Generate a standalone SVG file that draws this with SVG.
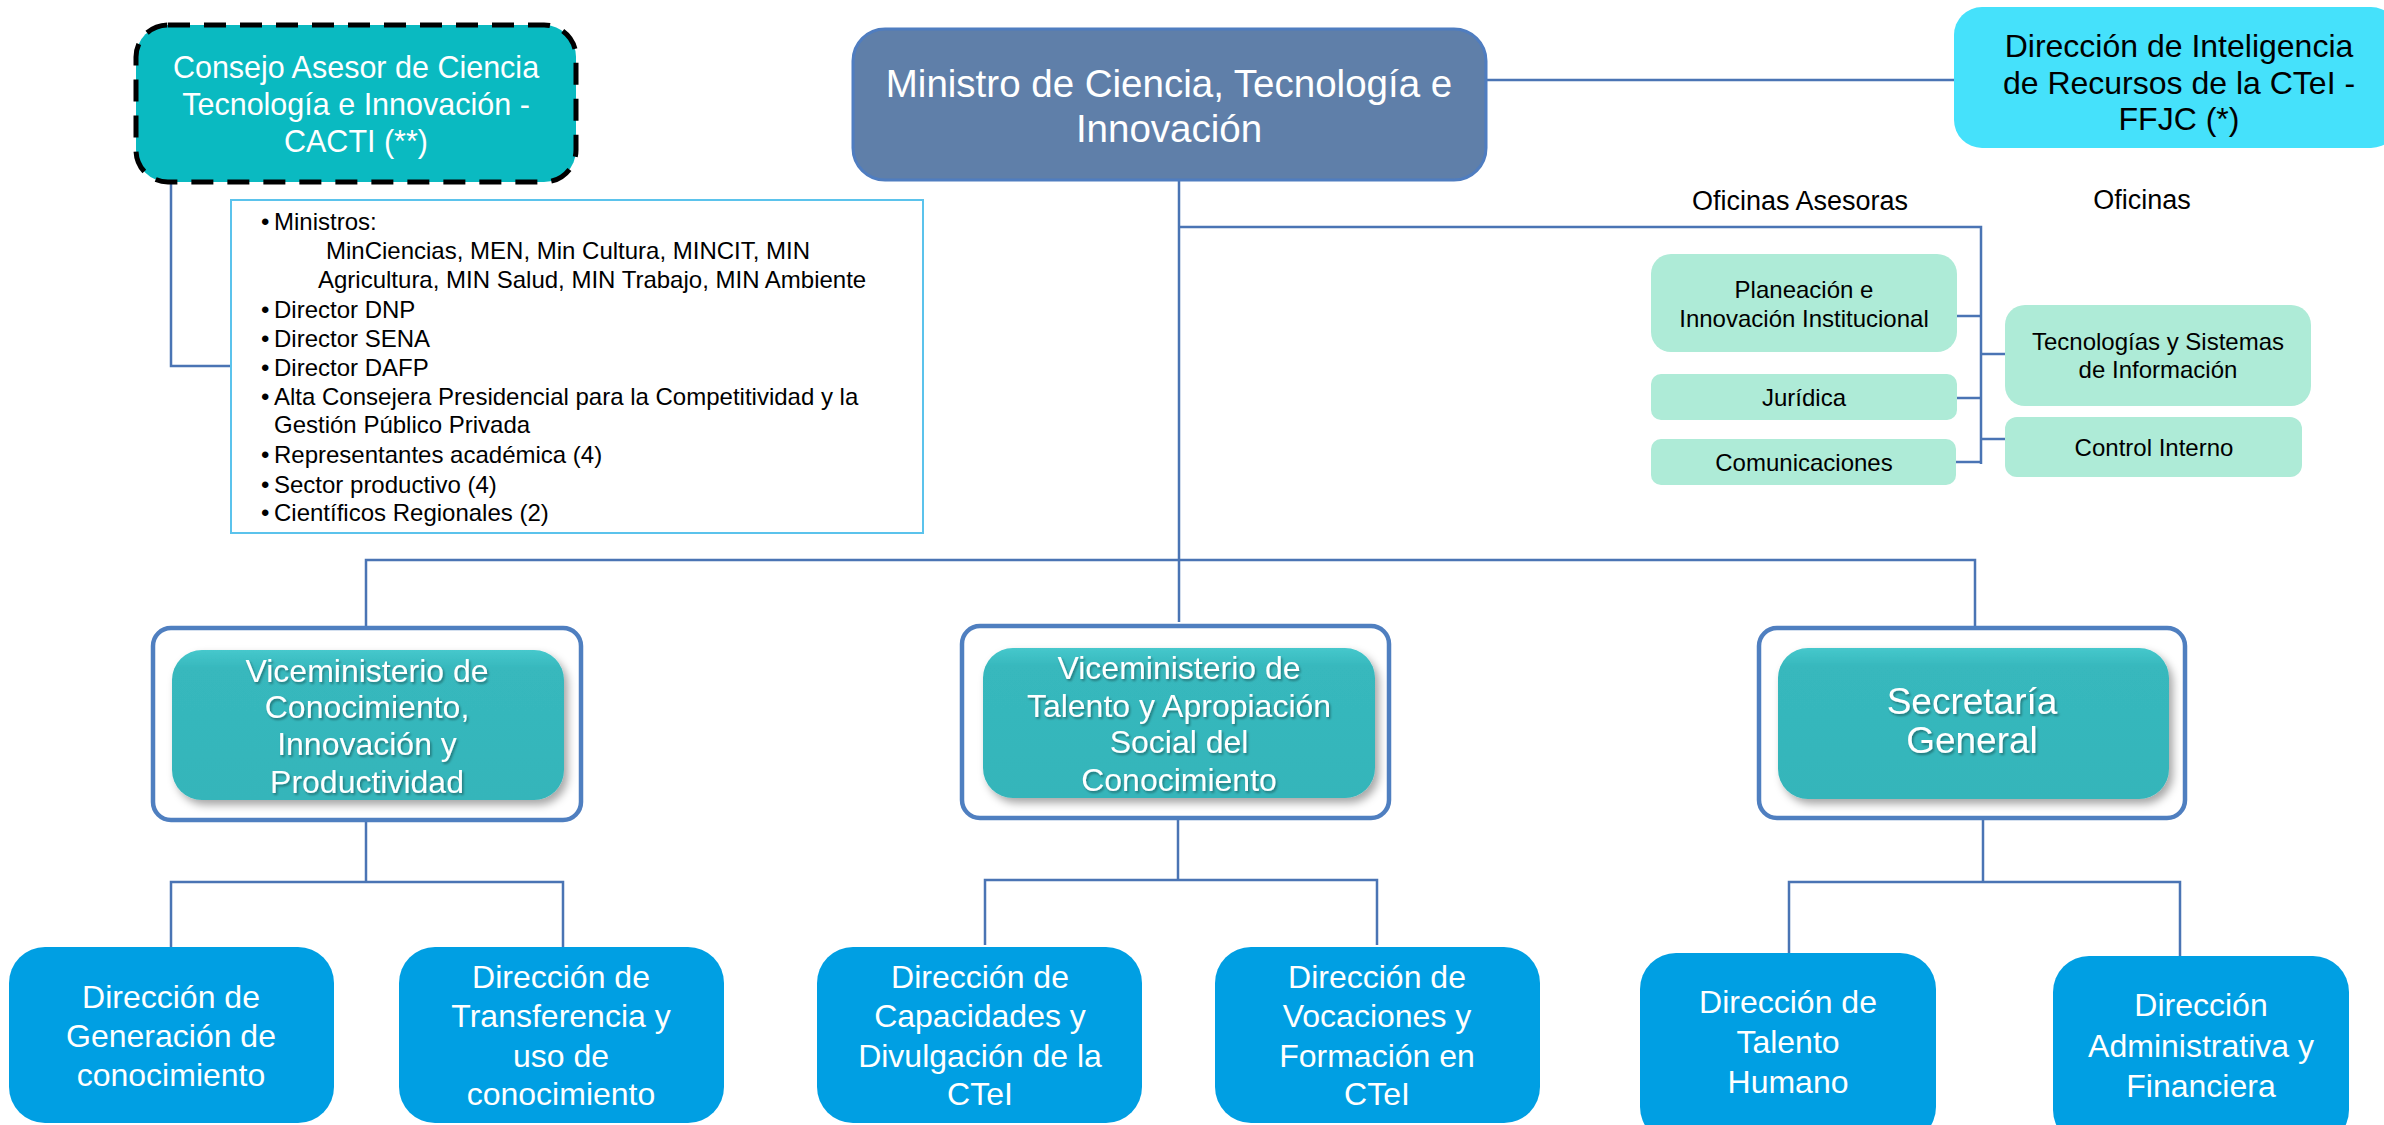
<svg xmlns="http://www.w3.org/2000/svg" width="2384" height="1125" viewBox="0 0 2384 1125">
<defs>
<style>
text{font-family:"Liberation Sans",Arial,sans-serif;}
.w{fill:#ffffff;text-anchor:middle;}
.k{fill:#000000;text-anchor:middle;}
.ln{fill:none;stroke:#4A74B4;stroke-width:2.5;}
.mint{fill:#AEEBD7;}
.dir{fill:#009FE3;}
.frame{fill:#ffffff;stroke:#4F7FC0;stroke-width:4.5;}
.vice{fill:url(#gv);filter:url(#sh);}
.vt{fill:#ffffff;text-anchor:middle;font-size:32px;filter:url(#ts);}
.mem{font-size:24px;fill:#000;}
.ofi{font-size:24px;}
</style>
<linearGradient id="gv" x1="0" y1="0" x2="0" y2="1">
<stop offset="0" stop-color="#46C8CC"/>
<stop offset="0.12" stop-color="#37B8BD"/>
<stop offset="1" stop-color="#34B5BA"/>
</linearGradient>
<filter id="sh" x="-10%" y="-10%" width="125%" height="130%">
<feDropShadow dx="4" dy="5" stdDeviation="4" flood-color="#000" flood-opacity="0.35"/>
</filter>
<filter id="ts" x="-10%" y="-20%" width="120%" height="150%">
<feDropShadow dx="1.5" dy="2" stdDeviation="1.2" flood-color="#000" flood-opacity="0.35"/>
</filter>
</defs>
<rect width="2384" height="1125" fill="#ffffff"/>

<g id="connectors">
<line class="ln" x1="1486" y1="80" x2="1954" y2="80" stroke-width="3"/>
<polyline class="ln" points="171,182 171,366 231,366"/>
<line class="ln" x1="1179" y1="180" x2="1179" y2="622"/>
<polyline class="ln" points="1179,227 1981,227 1981,464"/>
<line class="ln" x1="1957" y1="316" x2="1981" y2="316"/>
<line class="ln" x1="1957" y1="398" x2="1981" y2="398"/>
<line class="ln" x1="1956" y1="462" x2="1981" y2="462"/>
<line class="ln" x1="1981" y1="354" x2="2005" y2="354"/>
<line class="ln" x1="1981" y1="439" x2="2005" y2="439"/>
<polyline class="ln" points="366,628 366,560 1975,560 1975,631"/>
<line class="ln" x1="366" y1="820" x2="366" y2="882"/>
<polyline class="ln" points="171,947 171,882 563,882 563,947"/>
<line class="ln" x1="1178" y1="819" x2="1178" y2="880"/>
<polyline class="ln" points="985,945 985,880 1377,880 1377,945"/>
<line class="ln" x1="1983" y1="818" x2="1983" y2="882"/>
<polyline class="ln" points="1789,953 1789,882 2180,882 2180,956"/>
</g>

<g id="cacti">
<rect x="136" y="25" width="440" height="157" rx="32" fill="#0ABAC1" stroke="#000" stroke-width="5" stroke-dasharray="22 14"/>
<text class="w" font-size="30.5" x="356" y="78">Consejo Asesor de Ciencia</text>
<text class="w" font-size="30.5" x="356" y="115">Tecnología e Innovación -</text>
<text class="w" font-size="30.5" x="356" y="152">CACTI (**)</text>
</g>

<g id="ministro">
<rect x="853" y="29" width="633" height="151" rx="32" fill="#5F7FA9" stroke="#4F7DC0" stroke-width="3"/>
<text class="w" font-size="38.5" x="1169" y="97">Ministro de Ciencia, Tecnología e</text>
<text class="w" font-size="38.5" x="1169" y="142">Innovación</text>
</g>

<g id="ffjc">
<rect x="1954" y="7" width="445" height="141" rx="28" fill="#45E1FB"/>
<text class="k" font-size="32" x="2179" y="57">Dirección de Inteligencia</text>
<text class="k" font-size="32" x="2179" y="94">de Recursos de la CTeI -</text>
<text class="k" font-size="32" x="2179" y="130">FFJC (*)</text>
</g>

<g id="miembros">
<rect x="231" y="200" width="692" height="333" fill="#ffffff" stroke="#5BC3EC" stroke-width="2"/>
<g class="mem">
<text x="261" y="230">•</text><text x="274" y="230">Ministros:</text>
<text x="326" y="259">MinCiencias, MEN, Min Cultura, MINCIT, MIN</text>
<text x="318" y="288">Agricultura, MIN Salud, MIN Trabajo, MIN Ambiente</text>
<text x="261" y="318">•</text><text x="274" y="318">Director DNP</text>
<text x="261" y="347">•</text><text x="274" y="347">Director SENA</text>
<text x="261" y="376">•</text><text x="274" y="376">Director DAFP</text>
<text x="261" y="405">•</text><text x="274" y="405">Alta Consejera Presidencial para la Competitividad y la</text>
<text x="274" y="433">Gestión Público Privada</text>
<text x="261" y="463">•</text><text x="274" y="463">Representantes académica (4)</text>
<text x="261" y="493">•</text><text x="274" y="493">Sector productivo (4)</text>
<text x="261" y="521">•</text><text x="274" y="521">Científicos Regionales (2)</text>
</g>
</g>

<g id="labels-oficinas">
<text class="k" font-size="27" x="1800" y="210">Oficinas Asesoras</text>
<text class="k" font-size="27" x="2142" y="209">Oficinas</text>
</g>

<g id="planeacion">
<rect class="mint" x="1651" y="254" width="306" height="98" rx="20"/>
<text class="k ofi" x="1804" y="298">Planeación e</text>
<text class="k ofi" x="1804" y="327">Innovación Institucional</text>
</g>
<g id="juridica">
<rect class="mint" x="1651" y="374" width="306" height="46" rx="10"/>
<text class="k ofi" x="1804" y="406">Jurídica</text>
</g>
<g id="comunicaciones">
<rect class="mint" x="1651" y="439" width="305" height="46" rx="10"/>
<text class="k ofi" x="1804" y="471">Comunicaciones</text>
</g>
<g id="tecnologias">
<rect class="mint" x="2005" y="305" width="306" height="101" rx="20"/>
<text class="k ofi" x="2158" y="350">Tecnologías y Sistemas</text>
<text class="k ofi" x="2158" y="378">de Información</text>
</g>
<g id="control">
<rect class="mint" x="2005" y="417" width="297" height="60" rx="12"/>
<text class="k ofi" x="2154" y="456">Control Interno</text>
</g>

<g id="vice-conocimiento">
<rect class="frame" x="153" y="628" width="428" height="192" rx="18"/>
<rect class="vice" x="172" y="650" width="392" height="150" rx="30"/>
<text class="vt" x="367" y="682">Viceministerio de</text>
<text class="vt" x="367" y="718">Conocimiento,</text>
<text class="vt" x="367" y="755">Innovación y</text>
<text class="vt" x="367" y="793">Productividad</text>
</g>

<g id="vice-talento">
<rect class="frame" x="962" y="626" width="427" height="192" rx="18"/>
<rect class="vice" x="983" y="648" width="392" height="150" rx="30"/>
<text class="vt" x="1179" y="679">Viceministerio de</text>
<text class="vt" x="1179" y="717">Talento y Apropiación</text>
<text class="vt" x="1179" y="753">Social del</text>
<text class="vt" x="1179" y="791">Conocimiento</text>
</g>

<g id="secretaria">
<rect class="frame" x="1759" y="628" width="426" height="190" rx="18"/>
<rect class="vice" x="1778" y="648" width="391" height="151" rx="30"/>
<text class="vt" style="font-size:37px" x="1972" y="714">Secretaría</text>
<text class="vt" style="font-size:37px" x="1972" y="753">General</text>
</g>

<g id="dir-generacion">
<rect class="dir" x="9" y="947" width="325" height="176" rx="36"/>
<text class="w" font-size="32" x="171" y="1008">Dirección de</text>
<text class="w" font-size="32" x="171" y="1047">Generación de</text>
<text class="w" font-size="32" x="171" y="1086">conocimiento</text>
</g>
<g id="dir-transferencia">
<rect class="dir" x="399" y="947" width="325" height="176" rx="36"/>
<text class="w" font-size="32" x="561" y="988">Dirección de</text>
<text class="w" font-size="32" x="561" y="1027">Transferencia y</text>
<text class="w" font-size="32" x="561" y="1067">uso de</text>
<text class="w" font-size="32" x="561" y="1105">conocimiento</text>
</g>
<g id="dir-capacidades">
<rect class="dir" x="817" y="947" width="325" height="176" rx="36"/>
<text class="w" font-size="32" x="980" y="988">Dirección de</text>
<text class="w" font-size="32" x="980" y="1027">Capacidades y</text>
<text class="w" font-size="32" x="980" y="1067">Divulgación de la</text>
<text class="w" font-size="32" x="980" y="1105">CTeI</text>
</g>
<g id="dir-vocaciones">
<rect class="dir" x="1215" y="947" width="325" height="176" rx="36"/>
<text class="w" font-size="32" x="1377" y="988">Dirección de</text>
<text class="w" font-size="32" x="1377" y="1027">Vocaciones y</text>
<text class="w" font-size="32" x="1377" y="1067">Formación en</text>
<text class="w" font-size="32" x="1377" y="1105">CTeI</text>
</g>
<g id="dir-talento">
<rect class="dir" x="1640" y="953" width="296" height="190" rx="36"/>
<text class="w" font-size="32" x="1788" y="1013">Dirección de</text>
<text class="w" font-size="32" x="1788" y="1053">Talento</text>
<text class="w" font-size="32" x="1788" y="1093">Humano</text>
</g>
<g id="dir-administrativa">
<rect class="dir" x="2053" y="956" width="296" height="190" rx="36"/>
<text class="w" font-size="32" x="2201" y="1016">Dirección</text>
<text class="w" font-size="32" x="2201" y="1057">Administrativa y</text>
<text class="w" font-size="32" x="2201" y="1097">Financiera</text>
</g>
</svg>
